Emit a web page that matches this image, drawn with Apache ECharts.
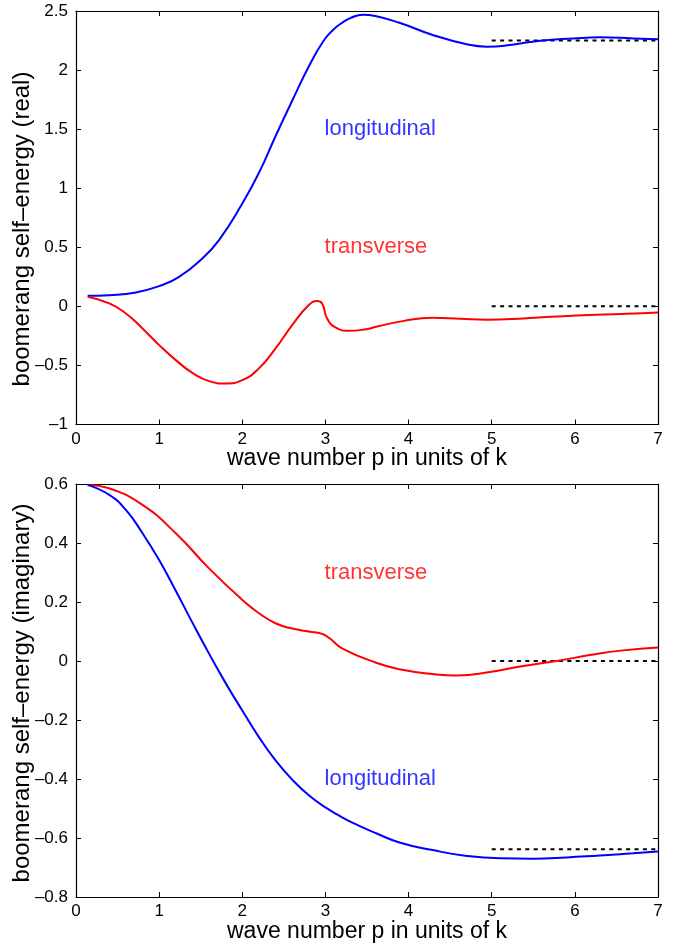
<!DOCTYPE html>
<html>
<head>
<meta charset="utf-8">
<script src="https://cdn.jsdelivr.net/npm/echarts@6/dist/echarts.min.js"></script>
<style>
  html, body { margin: 0; padding: 0; background: #fff; }
  #chart { width: 683px; height: 944px; }
</style>
</head>
<body>
<div id="chart"></div>
<script>
// Boomerang self-energy versus wave number p (units of k)

// Real part, longitudinal mode
const pRealLong = [0.14, 0.40, 0.72, 1.0, 1.24, 1.52, 1.72, 2.0, 2.2, 2.4, 2.6, 2.8, 2.98, 3.1, 3.2, 3.3, 3.45, 3.6, 3.89, 4.29, 4.70, 4.94, 5.22, 5.58, 5.98, 6.30, 6.70, 7.0];
const realLong  = [0.089, 0.095, 0.118, 0.171, 0.25, 0.406, 0.561, 0.87, 1.13, 1.44, 1.74, 2.03, 2.25, 2.345, 2.40, 2.44, 2.469, 2.458, 2.40, 2.297, 2.218, 2.198, 2.212, 2.249, 2.268, 2.277, 2.268, 2.26];

// Real part, transverse mode
const pRealTrans = [0.14, 0.40, 0.60, 0.80, 1.0, 1.2, 1.4, 1.6, 1.8, 2.0, 2.2, 2.4, 2.6, 2.8, 2.9, 2.96, 3.02, 3.12, 3.29, 3.49, 3.61, 3.93, 4.29, 4.62, 4.94, 5.42, 6.02, 6.62, 7.0];
const realTrans  = [0.081, 0.025, -0.06, -0.187, -0.328, -0.455, -0.563, -0.633, -0.653, -0.625, -0.525, -0.356, -0.159, 0.011, 0.045, 0.025, -0.102, -0.178, -0.207, -0.193, -0.173, -0.125, -0.097, -0.105, -0.114, -0.1, -0.077, -0.063, -0.051];

// Imaginary part, transverse mode
const pImagTrans = [0.14, 0.40, 0.80, 1.2, 1.6, 2.0, 2.2, 2.4, 2.6, 2.8, 2.96, 3.05, 3.2, 3.61, 3.89, 4.29, 4.58, 4.98, 5.38, 5.78, 6.18, 6.58, 7.0];
const imagTrans  = [0.597, 0.585, 0.529, 0.433, 0.314, 0.207, 0.162, 0.128, 0.110, 0.100, 0.092, 0.077, 0.043, -0.006, -0.028, -0.044, -0.049, -0.037, -0.017, 0.0, 0.020, 0.036, 0.046];

// Imaginary part, longitudinal mode
const pImagLong = [0.14, 0.40, 0.60, 0.80, 1.0, 1.2, 1.4, 1.6, 1.8, 2.0, 2.2, 2.4, 2.6, 2.8, 3.0, 3.2, 3.4, 3.61, 3.89, 4.29, 4.70, 5.10, 5.50, 5.90, 6.30, 6.70, 7.0];
const imagLong  = [0.597, 0.563, 0.512, 0.433, 0.342, 0.238, 0.130, 0.025, -0.075, -0.168, -0.258, -0.337, -0.402, -0.455, -0.496, -0.530, -0.558, -0.584, -0.615, -0.641, -0.661, -0.669, -0.670, -0.666, -0.659, -0.652, -0.646];

// Large-p asymptotes (dotted), drawn over p = 5..7
const asymP = [5, 7];
const realAsymLong = 2.25, realAsymTrans = 0;
const imagAsymLong = -0.638, imagAsymTrans = 0;

// Axis ranges and tick spacing
const xTicks = { min: 0, max: 7, interval: 1 };
const realTicks = { min: -1, max: 2.5, interval: 0.5 };
const imagTicks = { min: -0.8, max: 0.6, interval: 0.2 };

// Curve annotations
const realLabels = [{ p: 2.99, v: 1.5, text: 'longitudinal', color: '#0000ff' },
                    { p: 2.99, v: 0.5, text: 'transverse', color: '#ff0000' }];
const imagLabels = [{ p: 2.99, v: 0.3, text: 'transverse', color: '#ff0000' },
                    { p: 2.99, v: -0.4, text: 'longitudinal', color: '#0000ff' }];

// Axis titles
const xTitle = 'wave number p in units of k';
const yTitleReal = 'boomerang self\u2013energy (real)';
const yTitleImag = 'boomerang self\u2013energy (imaginary)';

const FONT = '"Liberation Sans", Arial, Helvetica, sans-serif';
const BLUE = '#0000ff', RED = '#ff0000';

const pairs = (xs, ys) => xs.map((x, i) => [x, ys[i]]);
const fmtTick = v => String(+v.toFixed(2)).replace('-', '\u2013');

function xAxes(gridIndex) {
  const base = {
    type: 'value', gridIndex, min: xTicks.min, max: xTicks.max, interval: xTicks.interval,
    splitLine: { show: false },
    axisLine: { show: true, onZero: false, lineStyle: { color: '#000', width: 1.2 } },
    axisTick: { show: true, inside: true, length: 5, lineStyle: { color: '#000', width: 1 } }
  };
  return [
    Object.assign({}, base, {
      position: 'bottom',
      axisLabel: { color: '#000', fontSize: 17, fontFamily: FONT, margin: 6, formatter: fmtTick },
      name: xTitle, nameLocation: 'middle', nameGap: 23, nameMoveOverlap: false,
      nameTextStyle: { color: '#000', fontSize: 23, fontFamily: FONT }
    }),
    Object.assign({}, base, { position: 'top', axisLabel: { show: false } })
  ];
}

function yAxes(gridIndex, ticks) {
  const base = {
    type: 'value', gridIndex, min: ticks.min, max: ticks.max, interval: ticks.interval,
    splitLine: { show: false },
    axisLine: { show: true, onZero: false, lineStyle: { color: '#000', width: 1.2 } },
    axisTick: { show: true, inside: true, length: 5, lineStyle: { color: '#000', width: 1 } }
  };
  return [
    Object.assign({}, base, {
      position: 'left',
      axisLabel: { color: '#000', fontSize: 17, fontFamily: FONT, margin: 8, formatter: fmtTick }
    }),
    Object.assign({}, base, { position: 'right', axisLabel: { show: false } })
  ];
}

function curve(xIdx, yIdx, data, color) {
  return {
    type: 'line', xAxisIndex: xIdx, yAxisIndex: yIdx, data,
    smooth: 0.5, showSymbol: false, symbol: 'none',
    lineStyle: { color, width: 2 }, z: 3, animation: false
  };
}

function asymptote(xIdx, yIdx, value) {
  return {
    type: 'line', xAxisIndex: xIdx, yAxisIndex: yIdx,
    data: asymP.map(p => [p, value]), showSymbol: false, symbol: 'none',
    lineStyle: { color: '#000', width: 2, type: [4, 4.4] }, z: 2, animation: false
  };
}

function labels(xIdx, yIdx, items) {
  return items.map(it => ({
    type: 'scatter', xAxisIndex: xIdx, yAxisIndex: yIdx,
    data: [[it.p, it.v]], symbolSize: 0, silent: true, animation: false,
    label: {
      show: true, position: 'right', distance: 0, formatter: it.text,
      color: it.color, fontSize: 22, fontFamily: FONT
    }
  }));
}

function yTitle(text, cx, cy) {
  return {
    type: 'text', x: cx, y: cy, rotation: Math.PI / 2, silent: true,
    style: { text, fill: '#000', font: '24px ' + FONT, align: 'center', verticalAlign: 'middle' }
  };
}

const chart = echarts.init(document.getElementById('chart'), null, { renderer: 'canvas' });
chart.setOption({
  backgroundColor: '#ffffff',
  animation: false,
  grid: [
    { left: 76, right: 25, top: 11, height: 413.5, containLabel: false, outerBoundsMode: 'none' },
    { left: 76, right: 25, top: 484, height: 413, containLabel: false, outerBoundsMode: 'none' }
  ],
  xAxis: [...xAxes(0), ...xAxes(1)],
  yAxis: [...yAxes(0, realTicks), ...yAxes(1, imagTicks)],
  graphic: [yTitle(yTitleReal, 22, 229), yTitle(yTitleImag, 22, 693)],
  series: [
    curve(0, 0, pairs(pRealLong, realLong), BLUE),
    curve(0, 0, pairs(pRealTrans, realTrans), RED),
    asymptote(0, 0, realAsymLong),
    asymptote(0, 0, realAsymTrans),
    ...labels(0, 0, realLabels),
    curve(2, 2, pairs(pImagTrans, imagTrans), RED),
    curve(2, 2, pairs(pImagLong, imagLong), BLUE),
    asymptote(2, 2, imagAsymLong),
    asymptote(2, 2, imagAsymTrans),
    ...labels(2, 2, imagLabels)
  ]
});
</script>
</body>
</html>
